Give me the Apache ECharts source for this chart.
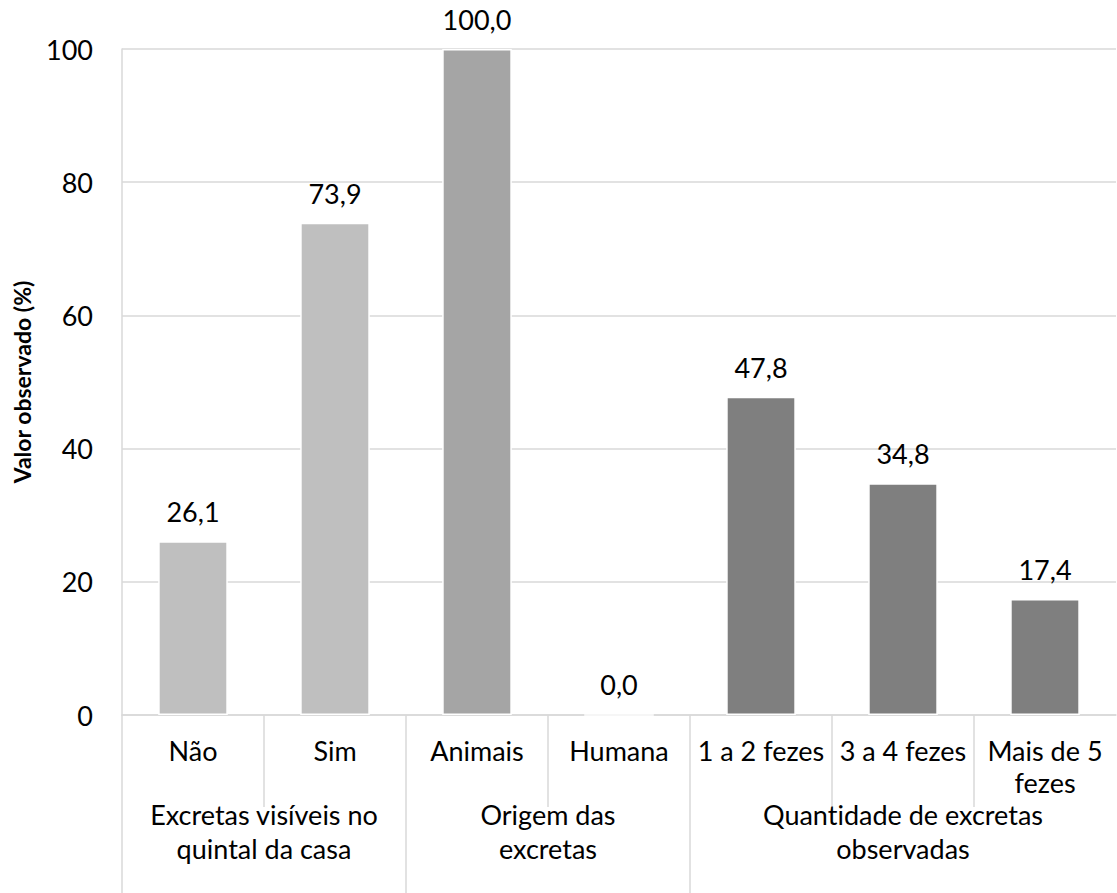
<!DOCTYPE html>
<html>
<head>
<meta charset="utf-8">
<script src="https://cdn.jsdelivr.net/npm/echarts@6/dist/echarts.min.js"></script>
<style>
html,body{margin:0;padding:0;background:#fff;}
#chart{width:1117px;height:893px;font-variant-ligatures:none;}
#chart text{font-variant-ligatures:none;font-feature-settings:"liga" 0,"clig" 0;}
</style>
</head>
<body>
<div id="chart"></div>
<script>
const categories = ['Não', 'Sim', 'Animais', 'Humana', '1 a 2 fezes', '3 a 4 fezes', 'Mais de 5\nfezes'];
const values = [26.1, 73.9, 100.0, 0.0, 47.8, 34.8, 17.4];
const groupOfCategory = [0, 0, 1, 1, 2, 2, 2];
const groupNames = ['Excretas visíveis no\nquintal da casa', 'Origem das\nexcretas', 'Quantidade de excretas\nobservadas'];
const groupStarts = [0, 2, 4];
const groupEnds = [2, 4, 7];
const yTicks = [0, 20, 40, 60, 80, 100];
const yAxisTitle = 'Valor observado (%)';

const groupColors = ['#BFBFBF', '#A5A5A5', '#7F7F7F'];
const FONT = 'Lato';
const FS = 27;
const GRID_COLOR = '#D9D9D9';

const nCat = categories.length;
const groupCenters = groupStarts.map((s, i) => (s + groupEnds[i]) / 2);
const innerSeparators = [];
for (let i = 1; i < nCat; i++) if (groupStarts.indexOf(i) < 0) innerSeparators.push(i);

const chart = echarts.init(document.getElementById('chart'), null, {renderer: 'svg'});
chart.setOption({
  animation: false,
  backgroundColor: '#fff',
  textStyle: {fontFamily: FONT},
  grid: {left: 122, right: 1, top: 49, bottom: 178, containLabel: false},
  xAxis: [
    {
      type: 'category',
      data: categories,
      position: 'bottom',
      axisLine: {show: true, lineStyle: {color: GRID_COLOR, width: 1.5}},
      axisTick: {show: false},
      axisLabel: {
        interval: 0, margin: 19, fontSize: FS, fontFamily: FONT, color: '#000',
        lineHeight: 32, align: 'center', verticalAlign: 'top'
      },
      splitLine: {show: false}
    },
    {
      type: 'value', min: 0, max: nCat, position: 'bottom',
      axisLine: {show: false},
      axisTick: {show: true, customValues: innerSeparators, length: 92,
                 lineStyle: {color: GRID_COLOR, width: 1.5}},
      axisLabel: {show: false},
      splitLine: {show: false}
    },
    {
      type: 'value', min: 0, max: nCat, position: 'bottom',
      axisLine: {show: false},
      axisTick: {show: true, customValues: groupStarts, length: 180,
                 lineStyle: {color: GRID_COLOR, width: 1.5}},
      axisLabel: {
        show: true, customValues: groupCenters, margin: 82,
        fontSize: FS, fontFamily: FONT, color: '#000', lineHeight: 34,
        verticalAlign: 'top', align: 'center',
        formatter: function (v) {
          const i = groupCenters.indexOf(v);
          return i >= 0 ? groupNames[i] : '';
        }
      },
      splitLine: {show: false}
    }
  ],
  yAxis: {
    type: 'value',
    min: yTicks[0], max: yTicks[yTicks.length - 1], interval: yTicks[1] - yTicks[0],
    name: yAxisTitle, nameLocation: 'middle', nameGap: 89, nameRotate: 90,
    nameTextStyle: {fontSize: 23, fontWeight: 'bold', fontFamily: FONT, color: '#000'},
    axisLine: {show: true, lineStyle: {color: GRID_COLOR, width: 1.5}},
    axisTick: {show: false},
    axisLabel: {fontSize: FS, fontFamily: FONT, color: '#000', margin: 29},
    splitLine: {show: true, lineStyle: {color: GRID_COLOR, width: 1.5}}
  },
  series: [{
    type: 'bar',
    xAxisIndex: 0,
    barWidth: '49%',
    data: values.map((v, i) => ({
      value: v,
      itemStyle: {color: groupColors[groupOfCategory[i]]}
    })),
    itemStyle: {borderColor: '#fff', borderWidth: 1.5},
    label: {
      show: true, position: 'top', distance: 16,
      fontSize: FS, fontFamily: FONT, color: '#000',
      formatter: p => p.value.toFixed(1).replace('.', ',')
    }
  }]
});
</script>
</body>
</html>
